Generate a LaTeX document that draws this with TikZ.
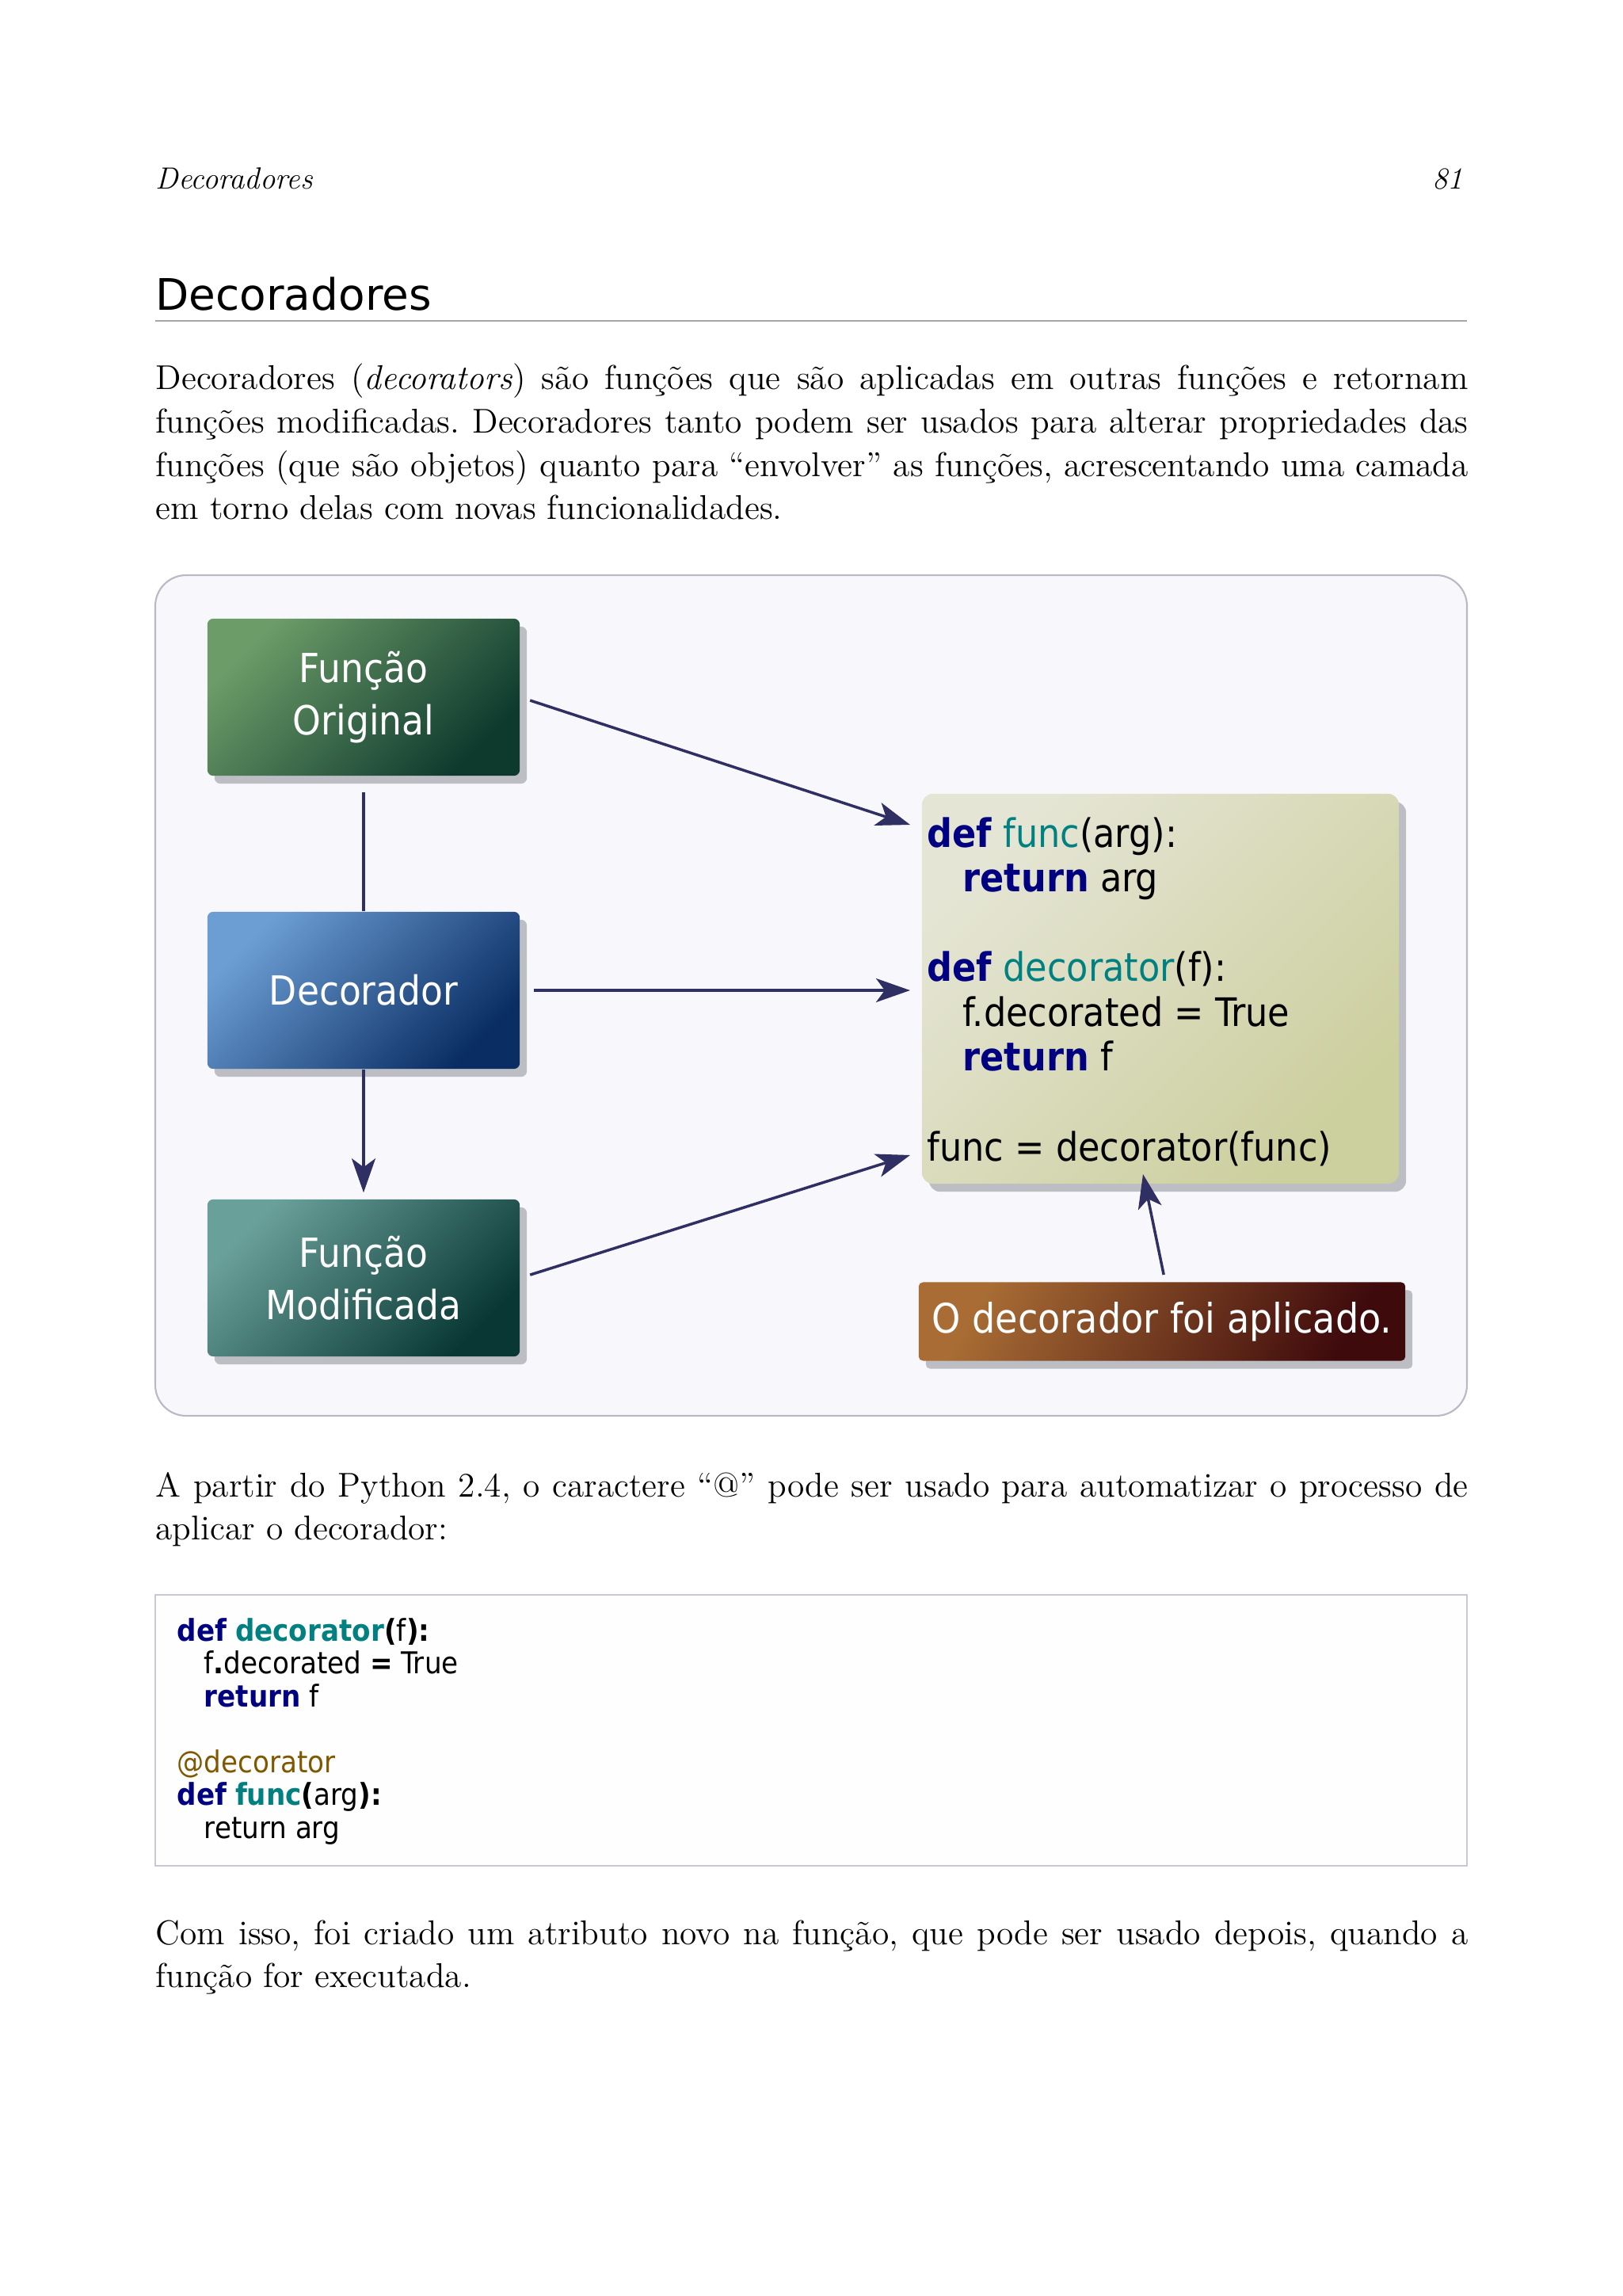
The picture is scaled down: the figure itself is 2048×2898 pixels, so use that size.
\documentclass[tikz,border=0pt]{standalone}
\usepackage{fontspec}
\newfontfamily\diafont{DejaVu Sans Condensed}
\newfontfamily\headfont{DejaVu Sans}
\usetikzlibrary{arrows.meta,shadows}
\frenchspacing

\begin{document}
\begin{tikzpicture}[x=0.01cm, y=-0.01cm, >={Stealth[length=0.43cm, width=0.30cm, inset=0.11cm]},
  every node/.style={inner sep=0pt},
  para/.style={anchor=base west, text width=16.56cm, align=justify,
    font=\fontsize{12.35}{15.5}\selectfont,
    execute at begin node={\hyphenpenalty=10000\exhyphenpenalty=10000\tolerance=9999}},
  fnbox/.style 2 args={minimum width=3.94cm, minimum height=1.98cm, rounded corners=2pt,
    text=white, align=center, font=\diafont\fontsize{14.4}{18.6}\selectfont,
    general shadow={fill=shadowgray, shadow xshift=0.09cm, shadow yshift=-0.10cm},
    top color=#1, bottom color=#2, shading angle=45},
  flow/.style={draw=flowcol, line width=0.035cm, ->},
  flowline/.style={draw=flowcol, line width=0.035cm}]
  % Define colors
  \definecolor{flowcol}{RGB}{47,47,99}
  \definecolor{shadowgray}{RGB}{189,189,196}
  \definecolor{kwblue}{RGB}{0,0,128}
  \definecolor{fnteal}{RGB}{0,128,128}
  \definecolor{atbrown}{RGB}{128,88,0}
  \definecolor{rulegray}{RGB}{165,165,170}
  \definecolor{frameline}{RGB}{185,185,198}
  \definecolor{framefill}{RGB}{248,248,252}
  \definecolor{origlight}{RGB}{108,156,104}
  \definecolor{origdark}{RGB}{14,58,46}
  \definecolor{decolight}{RGB}{108,158,212}
  \definecolor{decodark}{RGB}{10,46,100}
  \definecolor{modilight}{RGB}{106,160,154}
  \definecolor{modidark}{RGB}{9,56,52}
  \definecolor{codelight}{RGB}{229,229,213}
  \definecolor{codedark}{RGB}{204,207,158}
  \definecolor{notelight}{RGB}{168,108,52}
  \definecolor{notedark}{RGB}{62,10,12}
  \definecolor{lstline}{RGB}{200,200,215}
  \definecolor{lstfill}{RGB}{254,254,255}

  % Page
  \fill[white] (0,0) rectangle (2048,2898);
  \useasboundingbox (0,0) rectangle (2048,2898);

  % Running head and section title
  \node[anchor=base west, font=\itshape\fontsize{11}{13}\selectfont] (runhead) at (196,239) {Decoradores};
  \node[anchor=base east, font=\itshape\fontsize{11}{13}\selectfont] (pageno) at (1848,239) {81};
  \node[anchor=base west, font=\headfont\fontsize{15.6}{18}\selectfont] (sectitle) at (196,392) {Decoradores};
  \draw[rulegray, line width=0.6pt] (196,405) -- (1852,405);

  % Intro paragraph
  \node[para] (intro) at (196,492) {Decoradores (\textit{decorators}) são funções que são aplicadas em outras funções e retornam\linebreak
    funções modificadas. Decoradores tanto podem ser usados para alterar propriedades das\linebreak
    funções (que são objetos) quanto para “envolver” as funções, acrescentando uma camada\linebreak
    em torno delas com novas funcionalidades.};

  % Diagram frame
  \draw[draw=frameline, fill=framefill, line width=0.6pt, rounded corners=0.39cm] (196,726) rectangle (1852,1787);

  % Function boxes
  \node[fnbox={origlight}{origdark}] (orig) at (459,880) {Função\\Original};
  \node[fnbox={decolight}{decodark}] (deco) at (459,1250) {Decorador};
  \node[fnbox={modilight}{modidark}] (modi) at (459,1613) {Função\\Modificada};

  % Code box
  \node[minimum width=6.02cm, minimum height=4.92cm, rounded corners=4pt,
    general shadow={fill=shadowgray, shadow xshift=0.09cm, shadow yshift=-0.10cm},
    top color=codelight, bottom color=codedark, shading angle=45] (code) at (1465,1248) {};
  \node[anchor=base west, align=left, font=\diafont\fontsize{14.1}{16.07}\selectfont] (src) at (1170,1465)
    {{\bfseries\color{kwblue}def} {\color{fnteal}func}(arg):\\
     \hspace*{12.8pt}{\bfseries\color{kwblue}return} arg\\[16.07pt]
     {\bfseries\color{kwblue}def} {\color{fnteal}decorator}(f):\\
     \hspace*{12.8pt}f.decorated = True\\
     \hspace*{12.8pt}{\bfseries\color{kwblue}return} f\\[16.07pt]
     func = decorator(func)};

  % Note box
  \node[minimum width=6.14cm, minimum height=0.99cm, rounded corners=1.5pt, text=white,
    font=\diafont\fontsize{14.6}{17}\selectfont,
    general shadow={fill=shadowgray, shadow xshift=0.09cm, shadow yshift=-0.10cm},
    top color=notelight, bottom color=notedark, shading angle=60] (note) at (1467,1668) {O decorador foi aplicado.};

  % Arrow targets
  \coordinate (tgtA) at (1149,1041);
  \coordinate (tgtB) at (1149,1250);
  \coordinate (tgtC) at (1149,1458);
  \coordinate (tgtD) at (1443,1482);

  % Connectors
  \draw[flowline, shorten <=0.2cm] (orig) -- (deco);
  \draw[flow, shorten >=0.08cm] (deco) -- (modi);
  \draw[flow, shorten <=0.13cm] (orig.east) -- (tgtA);
  \draw[flow, shorten <=0.17cm] (deco.east) -- (tgtB);
  \draw[flow, shorten <=0.13cm] (modi.east) -- (tgtC);
  \draw[flow, shorten <=0.09cm] ([xshift=0.04cm]note.north) -- (tgtD);

  % Second paragraph
  \node[para] (atpara) at (196,1889) {A partir do Python 2.4, o caractere “@” pode ser usado para automatizar o processo de\linebreak
    aplicar o decorador:};

  % Listing
  \draw[draw=lstline, fill=lstfill, line width=0.5pt] (196,2013) rectangle (1852,2355);
  \node[anchor=base west, align=left, font=\diafont\fontsize{10.8}{11.8}\selectfont] (listing) at (223,2320)
    {{\bfseries\color{kwblue}def} {\bfseries\color{fnteal}decorator}\textbf{(}f\textbf{):}\\
     \hspace*{9.7pt}f\textbf{.}decorated \textbf{=} True\\
     \hspace*{9.7pt}{\bfseries\color{kwblue}return} f\\[11.8pt]
     {\color{atbrown}@decorator}\\
     {\bfseries\color{kwblue}def} {\bfseries\color{fnteal}func}\textbf{(}arg\textbf{):}\\
     \hspace*{9.7pt}return arg};

  % Closing paragraph
  \node[para] (outro) at (196,2454) {Com isso, foi criado um atributo novo na função, que pode ser usado depois, quando a\linebreak
    função for executada.};
\end{tikzpicture}
\end{document}
